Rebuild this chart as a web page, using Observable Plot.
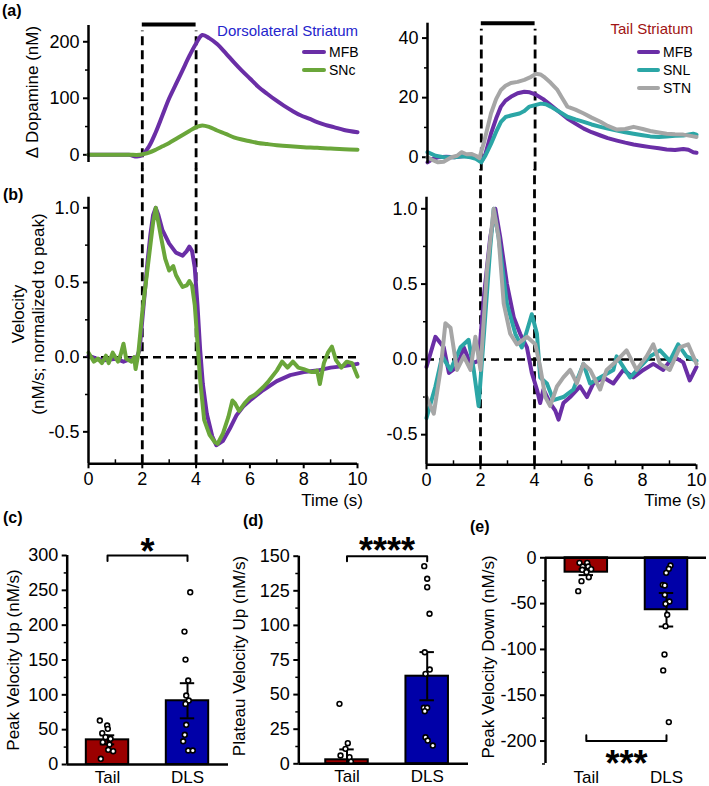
<!DOCTYPE html>
<html><head><meta charset="utf-8">
<script src="https://cdn.jsdelivr.net/npm/d3@7"></script>
<script src="https://cdn.jsdelivr.net/npm/@observablehq/plot@0.6"></script>
<style>
body{margin:0;background:#fff;}
#fig{position:relative;width:709px;height:786px;font-family:"Liberation Sans",Arial,sans-serif;overflow:hidden;background:#fff;}
.lbl{position:absolute;white-space:nowrap;}
</style></head><body><div id="fig"></div>
<script>
// ---------- DATA ----------
const stimWindow = [2, 4];
const categories = ["Tail", "DLS"];

// (a) Dorsolateral striatum, Δ dopamine (nM)
const tDlsMFB = [0,0.5,1,1.5,1.8,2.0,2.25,2.5,2.75,3.0,3.25,3.5,3.75,4.0,4.23,4.5,4.78,5.1,5.4,5.7,6.0,6.3,6.64,6.95,7.26,7.57,7.88,8.2,8.5,8.8,9.12,9.5,10];
const daDlsMFB = [0,0,0,0,-3,0,15,40,70,100,125,150,175,197,212,206,196,180,164,149,135,121,108,97,87,78,70,64,58,53,49,44,40];
const tDlsSNc = [0,0.5,1,1.5,1.9,2.0,2.25,2.5,2.75,3.0,3.25,3.5,3.75,4.0,4.23,4.5,4.78,5.1,5.4,5.7,6.0,6.3,6.64,7.0,7.5,8,8.5,9,9.5,10];
const daDlsSNc = [0,0,0,0,0,1,4,9,15,21,28,35,42,49,52,49,43,37,31,27,24,21,19,17,15,13.5,12.5,11,10,9];

// (a) Tail striatum, Δ dopamine (nM)
const tTailMFB = [0,0.2,0.4,0.7,1.0,1.3,1.6,1.8,2.0,2.15,2.36,2.55,2.73,2.9,3.1,3.35,3.6,3.8,4.03,4.3,4.58,4.9,5.2,5.5,5.81,6.1,6.43,6.7,7.04,7.35,7.66,8.0,8.28,8.6,8.89,9.2,9.51,9.7,9.88,10];
const daTailMFB = [-1.7,-0.5,0,0.2,0,0.3,0.5,0,-1.5,1,7.9,13,17,19,20.3,21.5,22,21.8,21,19.5,17.5,15.2,13,11.3,9.6,8.4,7.3,6.4,5.6,4.9,4.3,3.8,3.4,3.0,2.6,2.4,2.8,2.5,1.7,1.5];
const tTailSNL = [0,0.3,0.6,1.0,1.3,1.6,1.8,2.0,2.15,2.36,2.55,2.73,2.9,3.1,3.42,3.6,3.79,4.0,4.21,4.4,4.58,4.9,5.2,5.5,5.81,6.1,6.43,6.7,7.04,7.35,7.66,8.0,8.28,8.6,8.89,9.2,9.51,9.88,10];
const daTailSNL = [1.7,0.5,0,0,0.3,0,-0.5,-1.7,0.5,4.5,8.5,11.9,13.5,14,14.7,15.5,17,17.5,18,17.8,17,15.3,13.6,12.7,11.9,11,10.2,9.6,9.0,8.4,7.9,7.4,7.0,6.8,7.0,7.2,7.3,7.9,7.6];
const tTailSTN = [0,0.2,0.39,0.6,0.89,1.1,1.26,1.45,1.63,1.8,1.93,2.1,2.36,2.55,2.73,2.9,3.1,3.35,3.6,3.85,4.03,4.2,4.33,4.58,4.83,5.0,5.2,5.5,5.81,6.1,6.43,6.7,7.04,7.35,7.66,8.0,8.28,8.6,8.89,9.2,9.51,9.88,10];
const daTailSTN = [0,-1,-1.7,-1.5,0,0.5,1.7,1.0,1.1,0.5,-0.3,5,14.7,19.5,22.6,24,24.9,25.3,26,27,28,27.8,27,25,22.6,20,17,16,14.7,13.3,11.9,10.5,9.3,9.5,10.2,9.5,8.8,8.3,7.9,7.7,7.6,7.0,6.8];

// (b) Velocity normalized to peak, DLS
const tVelDlsMFB = [0,0.3,0.6,1.0,1.3,1.6,1.8,1.9,2.0,2.1,2.2,2.3,2.4,2.5,2.6,2.75,3.0,3.25,3.5,3.65,3.75,3.85,3.95,4.05,4.15,4.25,4.4,4.6,4.75,5.0,5.25,5.5,5.75,6.0,6.5,7.0,7.5,8.0,8.5,9.0,9.5,10];
const velDlsMFB = [0.01,-0.01,-0.02,-0.01,-0.03,-0.01,0.0,0.05,0.25,0.45,0.65,0.82,0.95,1.0,0.95,0.85,0.76,0.70,0.68,0.71,0.74,0.71,0.6,0.35,0.05,-0.18,-0.38,-0.53,-0.59,-0.56,-0.48,-0.39,-0.33,-0.29,-0.22,-0.16,-0.12,-0.10,-0.09,-0.07,-0.06,-0.045];
const tVelDlsSNc = [0,0.1,0.2,0.35,0.5,0.65,0.75,0.9,1.0,1.1,1.2,1.3,1.4,1.5,1.6,1.7,1.75,1.85,2.0,2.2,2.4,2.5,2.6,2.7,2.85,3.0,3.15,3.25,3.4,3.5,3.65,3.75,3.85,3.95,4.05,4.15,4.3,4.5,4.7,4.8,5.0,5.2,5.35,5.45,5.6,5.8,6.0,6.2,6.5,6.7,7.0,7.2,7.4,7.6,7.8,8.0,8.3,8.5,8.6,8.75,8.9,9.05,9.2,9.4,9.6,9.8,10];
const velDlsSNc = [0.03,0.0,-0.03,-0.01,-0.04,0.01,-0.04,0.03,0.0,-0.03,0.02,0.09,-0.01,-0.02,-0.03,0.0,-0.08,0.02,0.3,0.6,0.9,1.0,0.9,0.8,0.66,0.58,0.61,0.55,0.5,0.47,0.48,0.51,0.48,0.35,0.1,-0.15,-0.42,-0.52,-0.57,-0.58,-0.51,-0.40,-0.29,-0.31,-0.36,-0.31,-0.27,-0.25,-0.2,-0.16,-0.09,-0.03,-0.07,-0.03,-0.07,-0.08,-0.10,-0.09,-0.18,-0.04,0.03,0.07,-0.02,-0.07,-0.03,-0.04,-0.13];

// (b) Velocity normalized to peak, Tail
const tVelTailMFB = [0,0.33,0.64,0.83,1.13,1.38,1.63,1.93,2.12,2.36,2.55,2.73,2.98,3.23,3.47,3.72,3.9,4.09,4.21,4.33,4.58,4.77,4.89,5.07,5.32,5.69,5.94,6.18,6.55,6.92,7.29,7.66,8.03,8.4,8.77,9.14,9.51,9.75,10];
const velTailMFB = [-0.05,0.15,0.08,-0.09,-0.05,0.08,-0.03,-0.01,0.41,0.81,1.0,0.81,0.5,0.28,0.17,0.08,-0.09,-0.2,-0.29,-0.2,-0.29,-0.34,-0.4,-0.29,-0.25,-0.18,-0.25,-0.16,-0.12,-0.16,-0.07,-0.12,-0.07,-0.03,-0.07,0.02,-0.02,-0.14,-0.05];
const tVelTailSNL = [0,0.33,0.58,0.89,1.26,1.56,1.75,1.93,2.12,2.36,2.49,2.67,2.98,3.29,3.53,3.72,3.9,4.09,4.21,4.46,4.7,5.07,5.44,5.81,6.06,6.43,6.92,7.04,7.54,7.91,8.28,8.65,9.01,9.32,9.63,10];
const velTailSNL = [-0.39,-0.18,0.02,-0.07,0.08,0.13,-0.07,-0.31,0.15,0.74,1.0,0.81,0.37,0.17,0.08,0.19,0.30,0.17,-0.12,-0.16,-0.27,-0.25,-0.2,-0.03,-0.16,-0.12,-0.07,0.02,-0.12,-0.05,0.02,0.06,-0.01,0.1,0.02,-0.01];
const tVelTailSTN = [0,0.27,0.52,0.7,0.89,1.13,1.38,1.63,1.81,2.0,2.24,2.49,2.67,2.86,3.1,3.35,3.72,4.03,4.21,4.4,4.58,4.83,5.07,5.32,5.57,5.81,6.06,6.43,6.67,7.04,7.41,7.78,8.15,8.4,8.65,9.01,9.38,9.69,10];
const velTailSTN = [-0.25,-0.36,-0.07,0.24,0.21,-0.07,0.02,-0.07,0.15,-0.07,0.59,1.0,0.81,0.37,0.17,0.10,0.15,0.10,-0.05,-0.25,-0.31,-0.18,-0.12,-0.07,-0.16,-0.03,-0.07,-0.2,-0.07,-0.01,0.06,-0.07,0.02,0.1,-0.03,-0.07,0.08,0.10,-0.03];

// (c) Peak velocity up (nM/s)
const peakUpMean = [35.4, 91.5];
const peakUpSem = [6.5, 25.2];
const peakUpTail = [63.1,56,51.2,45,39.2,36.9,32,28.7,21.1,19.1,8.2];
const peakUpTailJit = [-0.096,-0.004,0.004,-0.066,-0.025,0.038,-0.059,0.025,0.009,0.071,-0.084];
const peakUpDLS = [247.2,190.8,150.6,120.5,99,91.8,87,57,42.6,33.4,20.1,20.1];
const peakUpDLSJit = [0.034,-0.038,-0.025,0.009,-0.016,0.016,-0.025,-0.016,-0.034,-0.054,0.009,0.066];

// (d) Plateau velocity up (nM/s)
const plateauMean = [2.9, 63.3];
const plateauSem = [7.5, 17.4];
const plateauTail = [43.3,14.9,10.8,6,4.8,1.5];
const plateauTailJit = [-0.094,0.01,-0.019,-0.081,0.031,0.05];
const plateauDLS = [142.8,133.7,127.6,108.4,80.6,68.1,65,40.5,40.5,38,19.2,16.8,13.2];
const plateauDLSJit = [-0.037,0,0,0.029,-0.03,0.032,-0.021,-0.042,0,-0.03,-0.021,0.007,0.07];

// (e) Peak velocity down (nM/s)
const peakDownMean = [-15.7, -56.7];
const peakDownSem = [3.2, 18.3];
const peakDownTail = [-5.5,-5.5,-9.5,-9.5,-12.4,-13.1,-15.7,-21.2,-25.5,-36.4];
const peakDownTailJit = [-0.085,0.011,-0.044,0.024,0.061,-0.051,0.002,0.031,-0.06,-0.101];
const peakDownDLS = [-8.4,-12,-16.4,-29.5,-30.2,-40.4,-47.7,-50.2,-62.2,-74.6,-105.5,-122.9,-179.3];
const peakDownDLSJit = [0.05,0.029,-0.004,-0.046,-0.021,-0.021,0.037,-0.012,0.009,-0.012,-0.025,-0.041,0.029];

const dlsNames = ["MFB", "SNc"];
const tailNames = ["MFB", "SNL", "STN"];

// ---------- STYLE ----------
const purple = "#6a2ea6", green = "#6aa63a", teal = "#2ba6a6", gray = "#a6a6a6";
const dlsColors = [purple, green];
const tailColors = [purple, teal, gray];
const barColors = ["#9b0000", "#0000a8"];
const FONT = '"Liberation Sans", Arial, sans-serif';
const fig = document.getElementById("fig");
const zip = (t, v) => t.map((x, k) => ({t: x, v: v[k]}));
const baseStyle = {fontFamily: FONT, fontSize: "18px", background: "transparent", overflow: "visible", color: "black"};
const fmt = d => String(d);

function place(svg, left, top) {
  svg.style.position = "absolute";
  svg.style.left = left + "px";
  svg.style.top = top + "px";
  svg.style.maxWidth = "none";
  fig.appendChild(svg);
}
function label(text, o) {
  const d = document.createElement("div");
  d.className = "lbl";
  d.innerHTML = text;
  Object.assign(d.style, {fontSize: (o.size || 17) + "px", fontWeight: o.bold ? "bold" : "normal",
    color: o.color || "#000", lineHeight: o.lh || "1.15", textAlign: "center"});
  if (o.rotate) {
    d.style.left = o.cx + "px"; d.style.top = o.cy + "px";
    d.style.transform = "translate(-50%,-50%) rotate(-90deg)";
  } else {
    if (o.right != null) d.style.right = (709 - o.right) + "px"; else d.style.left = o.left + "px";
    d.style.top = o.cy + "px";
    d.style.transform = "translateY(-50%)";
  }
  fig.appendChild(d);
}
function legend(names, colors, x1, x2, ys, size) {
  names.forEach((n, k) => {
    const s = document.createElement("div");
    Object.assign(s.style, {position: "absolute", left: x1 + "px", top: (ys[k] - 2) + "px",
      width: (x2 - x1) + "px", height: "4px", background: colors[k], borderRadius: "2px"});
    fig.appendChild(s);
    label(n, {left: x2 + 3, cy: ys[k], size});
  });
}

const dash = "9,5";
const lineOpts = (c) => ({x: "t", y: "v", stroke: c, strokeWidth: 4, strokeLinejoin: "round", strokeLinecap: "round"});

// ---------- (a) left ----------
{
  const yd = [-13.6, 228.8];
  place(Plot.plot({
    width: 362, height: 170, marginLeft: 88, marginRight: 5, marginTop: 25, marginBottom: 8,
    x: {domain: [0, 10], axis: null}, y: {domain: yd},
    style: baseStyle,
    marks: [
      Plot.axisY([0, 100, 200], {tickSize: 5, tickPadding: 4, strokeWidth: 2, label: null}),
      Plot.axisY([50, 150], {tickSize: 3, strokeWidth: 1.5, fill: "none", label: null}),
      Plot.ruleX(stimWindow, {y1: -30, y2: 219, stroke: "black", strokeWidth: 2.8, strokeDasharray: dash}),
      Plot.ruleY([230.5], {x1: stimWindow[0], x2: stimWindow[1], strokeWidth: 4}),
      Plot.line(zip(tDlsMFB, daDlsMFB), {...lineOpts(dlsColors[0]), curve: "catmull-rom"}),
      Plot.line(zip(tDlsSNc, daDlsSNc), {...lineOpts(dlsColors[1]), curve: "catmull-rom"}),
      Plot.ruleX([0], {y1: yd[0], y2: yd[1], strokeWidth: 2.5})
    ]
  }), 0, 0);
}
// ---------- (a) right ----------
{
  const yd = [-2.2, 45];
  place(Plot.plot({
    width: 349, height: 170, marginLeft: 67, marginRight: 13, marginTop: 22.7, marginBottom: 6.7,
    x: {domain: [0, 10], axis: null}, y: {domain: yd},
    style: baseStyle,
    marks: [
      Plot.axisY([0, 20, 40], {tickSize: 5, tickPadding: 4, strokeWidth: 2, label: null}),
      Plot.axisY([10, 30], {tickSize: 3, strokeWidth: 1.5, fill: "none", label: null}),
      Plot.ruleX(stimWindow, {y1: -4.6, y2: 43, stroke: "black", strokeWidth: 2.8, strokeDasharray: dash}),
      Plot.ruleY([45], {x1: stimWindow[0], x2: stimWindow[1], strokeWidth: 4}),
      Plot.line(zip(tTailMFB, daTailMFB), lineOpts(tailColors[0])),
      Plot.line(zip(tTailSNL, daTailSNL), lineOpts(tailColors[1])),
      Plot.line(zip(tTailSTN, daTailSTN), lineOpts(tailColors[2])),
      Plot.ruleX([0], {y1: yd[0], y2: yd[1], strokeWidth: 2.5})
    ]
  }), 360, 0);
}
// ---------- (b) ----------
function velPlot(series, colors, left, width, mL, mR, yd, mB) {
  return place(Plot.plot({
    width, height: 340, marginLeft: mL, marginRight: mR, marginTop: 26.7, marginBottom: mB,
    x: {domain: [0, 10]}, y: {domain: yd},
    style: baseStyle,
    marks: [
      Plot.axisY([-0.5, 0, 0.5, 1], {tickSize: 5, tickPadding: 4, strokeWidth: 2, tickFormat: d => d.toFixed(1), label: null}),
      Plot.axisY([-0.25, 0.25, 0.75], {tickSize: 3, strokeWidth: 1.5, fill: "none", label: null}),
      Plot.axisX([0, 2, 4, 6, 8, 10], {tickSize: 5, tickPadding: 3, strokeWidth: 2, label: null}),
      Plot.axisX([1, 3, 5, 7, 9], {tickSize: -4, strokeWidth: 1.5, fill: "none", label: null}),
      Plot.ruleY([0], {x1: 0, x2: 10, strokeWidth: 2.5, strokeDasharray: "8,5"}),
      Plot.ruleX(stimWindow, {y1: yd[0], y2: 1.26, strokeWidth: 2.8, strokeDasharray: dash}),
      ...series.map((s, k) => Plot.line(s, lineOpts(colors[k]))),
      Plot.ruleX([0], {y1: yd[0], y2: yd[1], strokeWidth: 2.5}),
      Plot.ruleY([yd[0]], {x1: 0, x2: 10, strokeWidth: 2.5})
    ]
  }), left, 170);
}
velPlot([zip(tVelDlsMFB, velDlsMFB), zip(tVelDlsSNc, velDlsSNc)], dlsColors, 0, 362, 88, 5, [-0.714, 1.071], 46.7);
velPlot([zip(tVelTailMFB, velTailMFB), zip(tVelTailSNL, velTailSNL), zip(tVelTailSTN, velTailSTN)], tailColors, 360, 349, 66, 13, [-0.7, 1.077], 45.7);

// ---------- bar charts ----------
function barPlot(c) {
  const bars = c.mean.map((m, i) => ({i, m, s: c.sem[i]}));
  const pts = [];
  c.pts.forEach((arr, i) => arr.forEach((v, k) => pts.push({i, v, j: c.jit[i][k]})));
  const hw = 0.265, cw = 0.09;
  const lo = d => d.m >= 0 ? Math.max(0, d.m - d.s) : d.m - d.s;
  const hi = d => d.m >= 0 ? d.m + d.s : Math.min(0, d.m + d.s);
  const [b0, b1] = c.bracketPair;
  const bl = c.bracketLevel, bt = c.bracketTick;
  const bracket = [{x: b0, y: bl + bt}, {x: b0, y: bl}, {x: b1, y: bl}, {x: b1, y: bl + bt}];
  place(Plot.plot({
    width: c.width, height: 286, marginLeft: c.mL, marginRight: c.mR, marginTop: c.mT, marginBottom: c.mB,
    x: {domain: c.xd}, y: {domain: c.yd},
    style: baseStyle,
    marks: [
      Plot.axisY(c.major, {tickSize: 5, tickPadding: 4, strokeWidth: 2, tickFormat: fmt, label: null}),
      Plot.axisY(c.minor, {tickSize: 3, strokeWidth: 1.5, fill: "none", label: null}),
      Plot.axisX([0, 1], {tickSize: 0, tickPadding: c.xPad, tickFormat: i => categories[i], fontSize: 17, label: null}),
      Plot.rect(bars, {x1: d => d.i - hw, x2: d => d.i + hw, y1: 0, y2: "m", fill: d => barColors[d.i], stroke: "black", strokeWidth: 2}),
      Plot.ruleX(bars, {x: "i", y1: lo, y2: hi, strokeWidth: 2}),
      Plot.ruleY(bars.filter(d => hi(d) !== 0), {y: hi, x1: d => d.i - cw, x2: d => d.i + cw, strokeWidth: 2}),
      Plot.ruleY(bars.filter(d => lo(d) !== 0), {y: lo, x1: d => d.i - cw, x2: d => d.i + cw, strokeWidth: 2}),
      Plot.dot(pts, {x: d => d.i + d.j, y: "v", r: 2.4, fill: "white", stroke: "black", strokeWidth: 1.6}),
      Plot.line(bracket, {x: "x", y: "y", strokeWidth: 2}),
      Plot.text([c.stars], {x: (b0 + b1) / 2, y: bl, text: d => d, dy: c.starDy, fontSize: 36, fontWeight: "bold"}),
      Plot.ruleX([c.xd[0]], {y1: c.yd[0], y2: c.yd[1], strokeWidth: 2.5}),
      Plot.ruleY([0], {x1: c.xd[0], x2: c.xd[1], strokeWidth: 2.5})
    ]
  }), c.left, 500);
}
barPlot({left: 0, width: 235, mL: 66.7, mR: 7, mT: 55, mB: 22, xd: [-0.504, 1.5125], yd: [0, 300],
  major: d3.range(0, 301, 50), minor: d3.range(25, 300, 50), xPad: 6,
  mean: peakUpMean, sem: peakUpSem, pts: [peakUpTail, peakUpDLS], jit: [peakUpTailJit, peakUpDLSJit],
  bracketPair: [0, 1], bracketLevel: 300, bracketTick: -8, stars: "*", starDy: -3});
barPlot({left: 235, width: 235, mL: 63.3, mR: 2, mT: 55.7, mB: 22.7, xd: [-0.601, 1.515], yd: [0, 150],
  major: d3.range(0, 151, 25), minor: d3.range(12.5, 150, 25), xPad: 6,
  mean: plateauMean, sem: plateauSem, pts: [plateauTail, plateauDLS], jit: [plateauTailJit, plateauDLSJit],
  bracketPair: [0, 1], bracketLevel: 150, bracketTick: -3.6, stars: "****", starDy: -4.5});
barPlot({left: 470, width: 239, mL: 75, mR: 3, mT: 57.3, mB: 23, xd: [-0.509, 1.499], yd: [-224.5, 0],
  major: d3.range(-200, 1, 50), minor: d3.range(-225, 0, 50), xPad: 7,
  mean: peakDownMean, sem: peakDownSem, pts: [peakDownTail, peakDownDLS], jit: [peakDownTailJit, peakDownDLSJit],
  bracketPair: [0, 1], bracketLevel: -200, bracketTick: 6.2, stars: "***", starDy: 23});

// ---------- text: panel letters, titles, legends, axis labels ----------
label("(a)", {left: 2, cy: 11, size: 16, bold: true, lh: "1"});
label("(b)", {left: 3, cy: 195, size: 16, bold: true, lh: "1"});
label("(c)", {left: 3, cy: 518, size: 16, bold: true, lh: "1"});
label("(d)", {left: 243, cy: 521, size: 16, bold: true, lh: "1"});
label("(e)", {left: 470, cy: 527, size: 16, bold: true, lh: "1"});

label("Dorsolateral Striatum", {right: 358, cy: 30, size: 15, color: "#2424cc", lh: "1"});
label("Tail Striatum", {right: 693, cy: 28, size: 15, color: "#a01414", lh: "1"});
legend(dlsNames, dlsColors, 302, 326, [52, 70], 14);
legend(tailNames, tailColors, 637, 660, [52, 70, 88], 14);

label("Δ Dopamine (nM)", {rotate: true, cx: 33, cy: 92, size: 17});
label("Velocity<br>(nM/s; normalized to peak)", {rotate: true, cx: 29, cy: 314, size: 17, lh: "20px"});
label("Time (s)", {right: 363, cy: 500, size: 17, lh: "1"});
label("Time (s)", {right: 706, cy: 500, size: 17, lh: "1"});
label("Peak Velocity Up (nM/s)", {rotate: true, cx: 14, cy: 660, size: 17});
label("Plateau Velocity Up (nM/s)", {rotate: true, cx: 240, cy: 656, size: 17});
label("Peak Velocity Down (nM/s)", {rotate: true, cx: 489, cy: 657, size: 17});
</script>
</body></html>
